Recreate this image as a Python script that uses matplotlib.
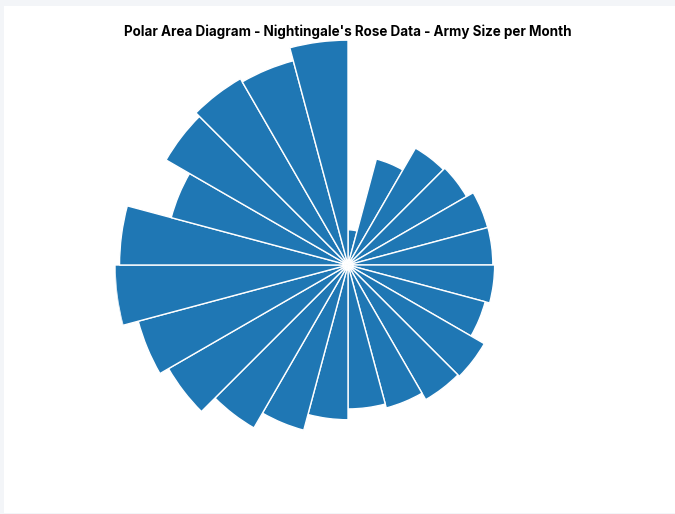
import numpy as np
import matplotlib
matplotlib.use("Agg")
import matplotlib.pyplot as plt
from matplotlib.patches import Rectangle

months = ["Apr 1854", "May 1854", "Jun 1854", "Jul 1854", "Aug 1854", "Sep 1854",
          "Oct 1854", "Nov 1854", "Dec 1854", "Jan 1855", "Feb 1855", "Mar 1855",
          "Apr 1855", "May 1855", "Jun 1855", "Jul 1855", "Aug 1855", "Sep 1855",
          "Oct 1855", "Nov 1855", "Dec 1855", "Jan 1856", "Feb 1856", "Mar 1856"]
army_size = [8571, 23333, 28333, 28722, 30246, 30290, 30643, 29736, 32779, 32393,
             30919, 30107, 32252, 35473, 38863, 42647, 44614, 47751, 46852, 37853,
             43217, 44212, 43485, 46140]
title = "Polar Area Diagram - Nightingale's Rose Data - Army Size per Month"

W, H = 675, 514
fig = plt.figure(figsize=(W / 100, H / 100), dpi=100)
fig.patch.set_facecolor("#f3f5f8")
fig.patches.append(Rectangle((4 / W, 1 / H), 1 - 4 / W, 1 - 7 / H,
                             transform=fig.transFigure, facecolor="white",
                             edgecolor="none", zorder=-5))

cx, cy, R = 348, 265, 233
ax = fig.add_axes([(cx - R) / W, (H - cy - R) / H, 2 * R / W, 2 * R / H],
                  projection="polar")
ax.set_facecolor("none")
ax.set_theta_zero_location("N")
ax.set_theta_direction(-1)
n = len(months)
theta = np.arange(n) * 2 * np.pi / n
r0 = 1600
vals = np.array(army_size, dtype=float)
ax.bar(theta, vals - r0, bottom=r0, width=2 * np.pi / n, align="edge",
       color="#1f77b4", edgecolor="white", linewidth=1.0)
ax.set_ylim(r0, vals.max())
ax.grid(False)
ax.set_xticks([])
ax.set_yticks([])
ax.spines["polar"].set_visible(False)

fig.text(cx / W, 1 - 32 / H, title, ha="center", va="center",
         fontsize=9.7, fontweight="bold", family=["Inter", "DejaVu Sans"])

fig.savefig("out.png", dpi=100, facecolor=fig.get_facecolor())
